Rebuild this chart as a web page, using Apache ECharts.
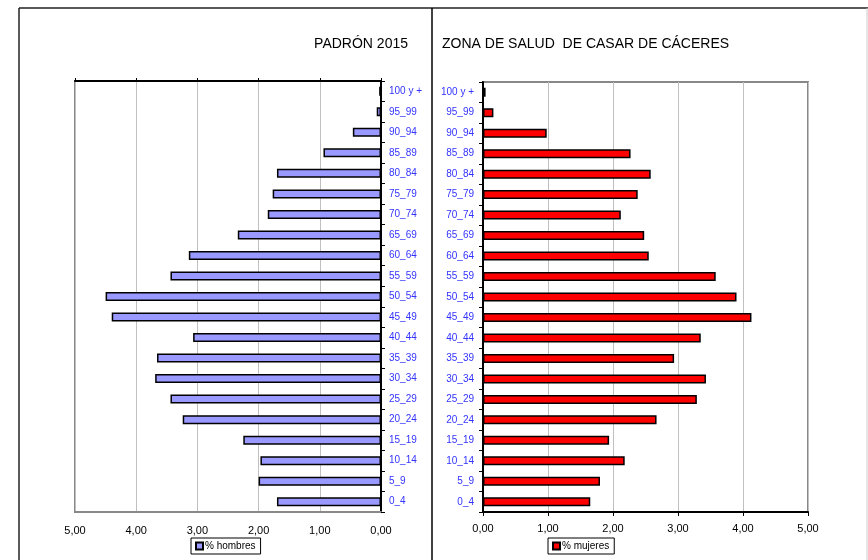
<!DOCTYPE html>
<html>
<head>
<meta charset="utf-8">
<script src="https://cdn.jsdelivr.net/npm/echarts@6/dist/echarts.min.js"></script>
<style>html,body{margin:0;padding:0;background:#fff}#c{width:868px;height:560px}</style>
</head>
<body>
<div id="c"></div>
<script>
// Age groups from youngest (bottom) to oldest (top)
var categories = ['0_4','5_9','10_14','15_19','20_24','25_29','30_34','35_39','40_44','45_49','50_54','55_59','60_64','65_69','70_74','75_79','80_84','85_89','90_94','95_99','100 y +'];
var hombres = [1.70,2.00,1.97,2.25,3.24,3.44,3.69,3.66,3.07,4.40,4.50,3.44,3.14,2.34,1.85,1.77,1.70,0.94,0.46,0.07,0.03];
var mujeres = [1.65,1.80,2.18,1.94,2.67,3.29,3.43,2.94,3.35,4.13,3.90,3.58,2.55,2.48,2.12,2.38,2.58,2.27,0.98,0.16,0.04];
var tickValues = [0,1,2,3,4,5];
var titleLeft = 'PADRÓN 2015';
var titleRight = 'ZONA DE SALUD  DE CASAR DE CÁCERES';

var FONT = 'Liberation Sans, Arial, sans-serif';
var catColor = '#3333FF';
function fmt(v){ return v.toFixed(2).replace('.', ','); }

var chart = echarts.init(document.getElementById('c'), null, {renderer:'canvas'});
chart.setOption({
  animation:false,
  backgroundColor:'#fff',
  textStyle:{fontFamily:FONT},
  title:[
    {text:titleLeft, right:455, top:32, textStyle:{fontSize:14, fontWeight:'normal', color:'#000', fontFamily:FONT}},
    {text:titleRight, left:437, top:32, textStyle:{fontSize:14, fontWeight:'normal', color:'#000', fontFamily:FONT}}
  ],
  legend:[
    {data:['% hombres'], left:191, top:538, orient:'horizontal', borderColor:'#000', borderWidth:1, padding:[3,5,3,4], itemWidth:7, itemHeight:7, itemGap:2, borderRadius:0,
     textStyle:{fontSize:10, color:'#000', fontFamily:FONT, padding:[0,0,0,-3]}, icon:'rect'},
    {data:['% mujeres'], left:548, top:538, orient:'horizontal', borderColor:'#000', borderWidth:1, padding:[3,5,3,4], itemWidth:7, itemHeight:7, itemGap:2, borderRadius:0,
     textStyle:{fontSize:10, color:'#000', fontFamily:FONT, padding:[0,0,0,-3]}, icon:'rect'}
  ],
  grid:[
    {left:75, right:487, top:81, bottom:48, show:true, borderColor:'#888', borderWidth:2, backgroundColor:'#fff'},
    {left:483, right:60, top:82, bottom:48, show:true, borderColor:'#888', borderWidth:2, backgroundColor:'#fff'}
  ],
  xAxis:[
    {gridIndex:0, type:'value', inverse:true, min:0, max:5, interval:1, position:'bottom',
     axisLine:{show:true, lineStyle:{color:'#888', width:2}}, axisTick:{show:false},
     axisLabel:{formatter:fmt, fontSize:11, color:'#000', margin:13, fontFamily:FONT},
     splitLine:{show:true, lineStyle:{color:'#c0c0c0', width:1}}},
    {gridIndex:0, type:'value', inverse:true, min:0, max:5, interval:1, position:'top',
     axisLine:{show:true, lineStyle:{color:'#000', width:2}}, axisTick:{show:true, length:3, lineStyle:{color:'#000', width:1}},
     axisLabel:{show:false}, splitLine:{show:false}},
    {gridIndex:1, type:'value', min:0, max:5, interval:1, position:'bottom',
     axisLine:{show:true, lineStyle:{color:'#000', width:2}}, axisTick:{show:true, length:4, lineStyle:{color:'#000', width:1}},
     axisLabel:{formatter:fmt, fontSize:11, color:'#000', margin:11, fontFamily:FONT},
     splitLine:{show:true, lineStyle:{color:'#c0c0c0', width:1}}}
  ],
  yAxis:[
    {gridIndex:0, type:'category', data:categories, position:'right',
     axisLine:{show:true, lineStyle:{color:'#000', width:2}}, axisTick:{show:true, length:4, lineStyle:{color:'#000', width:1}},
     axisLabel:{fontSize:10, color:catColor, margin:8, fontFamily:FONT, interval:0}},
    {gridIndex:1, type:'category', data:categories, position:'left',
     axisLine:{show:true, lineStyle:{color:'#000', width:2}}, axisTick:{show:true, length:4, lineStyle:{color:'#000', width:1}},
     axisLabel:{fontSize:10, color:catColor, margin:9, fontFamily:FONT, interval:0}}
  ],
  series:[
    {name:'% hombres', type:'bar', xAxisIndex:0, yAxisIndex:0, data:hombres, barWidth:9,
     itemStyle:{color:'#9999FF', borderColor:'#000', borderWidth:1.5}},
    {name:'% mujeres', type:'bar', xAxisIndex:2, yAxisIndex:1, data:mujeres, barWidth:9,
     itemStyle:{color:'#FF0000', borderColor:'#000', borderWidth:1.5}}
  ],
  graphic:[
    {type:'line', shape:{x1:19, y1:8, x2:19, y2:560}, style:{stroke:'#222', lineWidth:1.5}},
    {type:'line', shape:{x1:19, y1:8, x2:868, y2:8}, style:{stroke:'#222', lineWidth:1.5}},
    {type:'line', shape:{x1:867, y1:8, x2:867, y2:560}, style:{stroke:'#ccc', lineWidth:1}},
    {type:'line', shape:{x1:432, y1:8, x2:432, y2:560}, style:{stroke:'#000', lineWidth:1.5}}
  ]
});
</script>
</body>
</html>
